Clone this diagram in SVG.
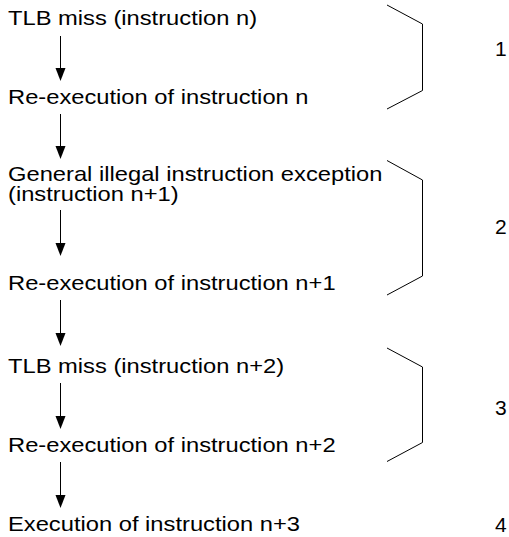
<svg xmlns="http://www.w3.org/2000/svg" width="509" height="537" viewBox="0 0 509 537">
<style>
text{font-family:"Liberation Sans",Arial,sans-serif;font-size:21px;fill:#000}
.c{stroke:#000;stroke-width:1;fill:none}
.h{fill:#000;stroke:none}
.b{stroke:#000;stroke-width:1;fill:none}
</style>
<rect width="509" height="537" fill="#fff"/>
<g id="n1" transform="scale(1.13 1)"><text x="7.1" y="25">TLB miss (instruction n)</text></g>
<g id="n2" transform="scale(1.13 1)"><text x="7.1" y="104">Re-execution of instruction n</text></g>
<g id="n3" transform="scale(1.13 1)"><text x="7.1" y="181">General illegal instruction exception</text><text x="7.1" y="201">(instruction n+1)</text></g>
<g id="n4" transform="scale(1.13 1)"><text x="7.1" y="290">Re-execution of instruction n+1</text></g>
<g id="n5" transform="scale(1.13 1)"><text x="7.1" y="373">TLB miss (instruction n+2)</text></g>
<g id="n6" transform="scale(1.13 1)"><text x="7.1" y="452">Re-execution of instruction n+2</text></g>
<g id="n7" transform="scale(1.13 1)"><text x="7.1" y="531">Execution of instruction n+3</text></g>
<g id="connectors">
<path class="c" d="M60.5,36 V69"/><path class="h" d="M55.5,68 L65.5,68 L60.5,81 Z"/>
<path class="c" d="M60.5,114 V147"/><path class="h" d="M55.5,146 L65.5,146 L60.5,159 Z"/>
<path class="c" d="M60.5,210 V244"/><path class="h" d="M55.5,243 L65.5,243 L60.5,256 Z"/>
<path class="c" d="M60.5,300 V334"/><path class="h" d="M55.5,333 L65.5,333 L60.5,346 Z"/>
<path class="c" d="M60.5,383 V417"/><path class="h" d="M55.5,416 L65.5,416 L60.5,429 Z"/>
<path class="c" d="M60.5,462 V496"/><path class="h" d="M55.5,495 L65.5,495 L60.5,508 Z"/>
</g>
<g id="brackets">
<path class="b" d="M387,5 L422.5,24 V90.5 L387,109"/>
<path class="b" d="M387,160.5 L422.5,180 V276 L387,295"/>
<path class="b" d="M387,348 L422.5,367 V442.5 L387,461.5"/>
</g>
<g id="labels">
<text x="495" y="56">1</text>
<text x="495" y="234">2</text>
<text x="495" y="415">3</text>
<text x="495" y="532">4</text>
</g>
</svg>
